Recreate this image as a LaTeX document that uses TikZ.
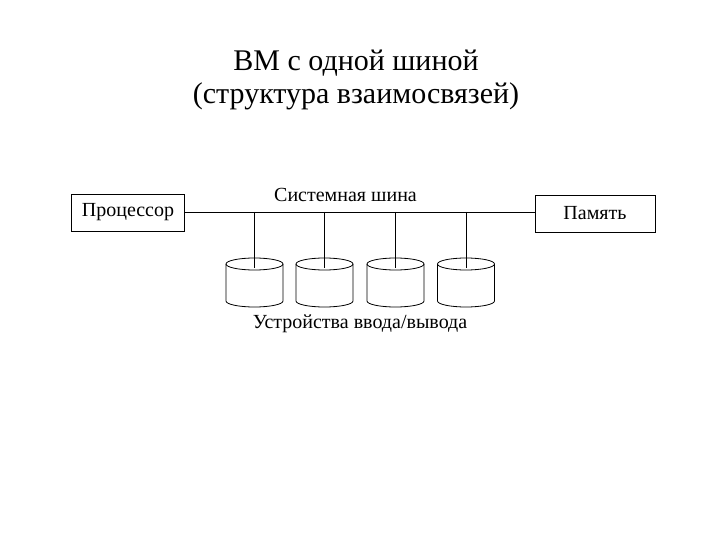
\documentclass[tikz,border=0pt]{standalone}
\usepackage{fontspec}
\setmainfont{Liberation Serif}
\begin{document}
\begin{tikzpicture}[x=1pt,y=-1pt,
  box/.style={draw,line width=0.8pt,minimum width=#1,minimum height=37pt,inner sep=0pt,font=\fontsize{20}{22}\selectfont},
  lbl/.style={inner sep=0pt,font=\fontsize{20}{22}\selectfont},
  wire/.style={line width=0.8pt}]
\useasboundingbox (0,0) rectangle (720,540);
\node[inner sep=0pt,align=center,font=\fontsize{30}{33}\selectfont] (title) at (356,80) {ВМ с одной шиной\\(структура взаимосвязей)};
\node[box=113pt] (cpu) at (128,212.5) {Процессор};
\node[box=120pt] (mem) at (595,213.5) {Память};
\node[lbl,anchor=base] (bus) at (345.5,202) {Системная шина};
\node[lbl,anchor=base] (io) at (360,328) {Устройства ввода/вывода};
\draw[wire] (cpu.east) -- (mem.west |- cpu.east);
\foreach \i/\cx in {1/254.5,2/324.5,3/395.5,4/466}{
  \coordinate (bt\i) at (\cx,212);
  \coordinate (ct\i) at (\cx,268);
  \draw[wire] (\cx-28.5,264) -- (\cx-28.5,301) arc[start angle=180,end angle=360,x radius=28.5,y radius=-6] -- (\cx+28.5,264);
  \draw[wire] (\cx,264) ellipse[x radius=28.5,y radius=6];
  \draw[wire] (bt\i) -- (ct\i);
}
\end{tikzpicture}
\end{document}
